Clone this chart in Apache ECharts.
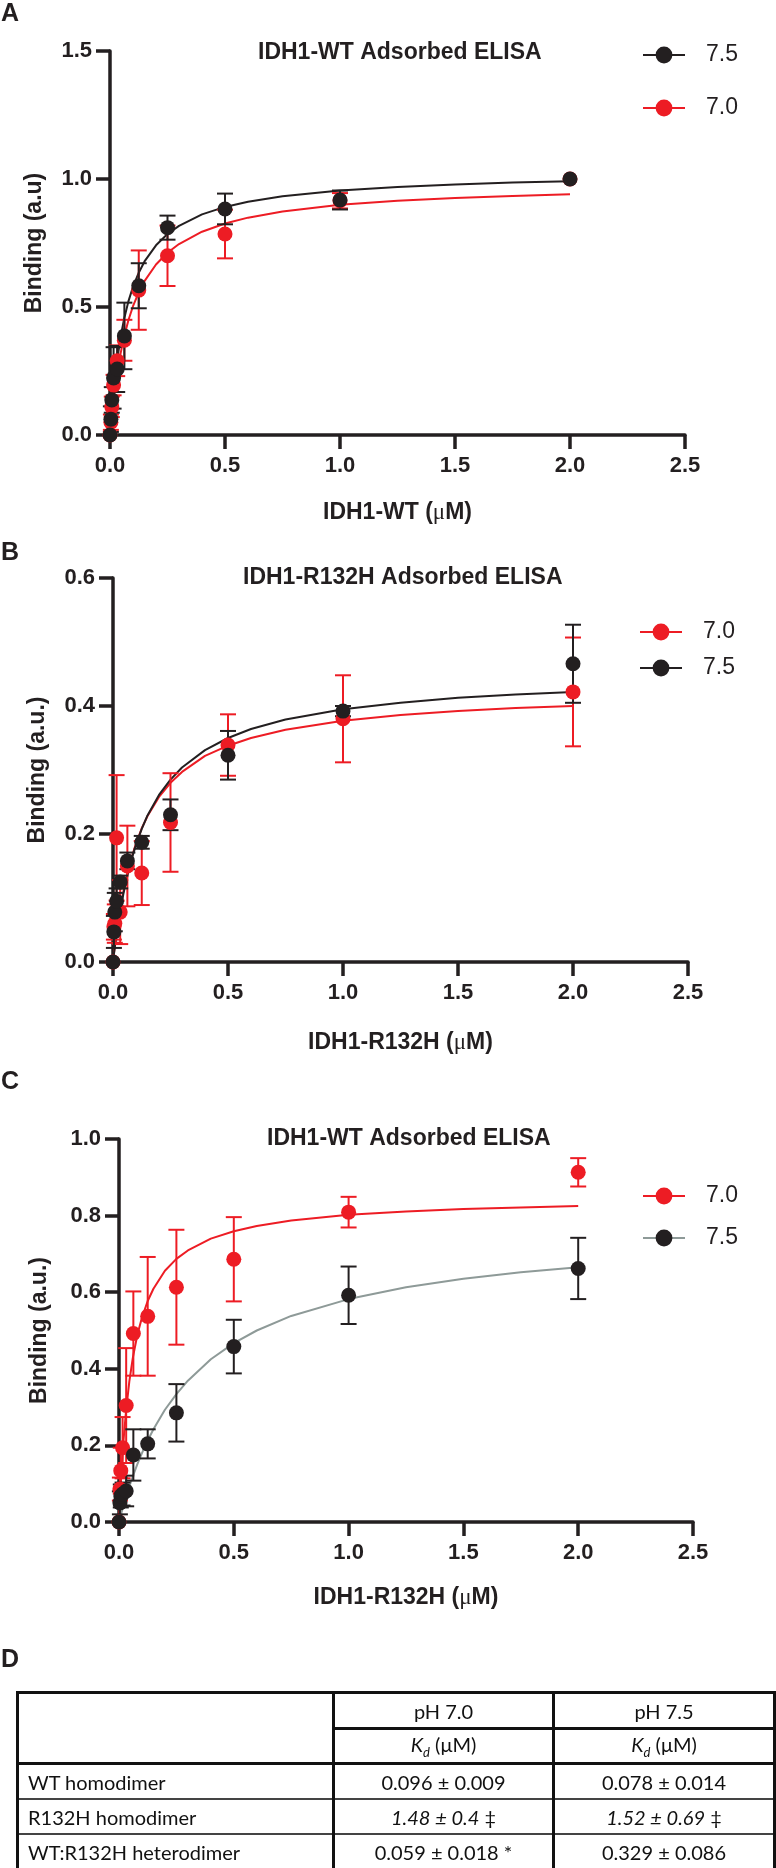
<!DOCTYPE html>
<html><head><meta charset="utf-8">
<script src="https://cdn.jsdelivr.net/npm/echarts/dist/echarts.min.js"></script>
<style>
html,body{margin:0;padding:0;background:#fff;}
#chart{position:absolute;left:0;top:0;width:776px;height:1868px;}
#tbl{position:absolute;left:16px;top:1691px;width:759px;border-collapse:collapse;font-family:Lato,'Open Sans',sans-serif;font-size:20px;color:#111;table-layout:fixed;border:3px solid #111;}
#tbl td{padding:0;text-align:center;vertical-align:middle;border-left:3px solid #111;border-right:3px solid #111;}
#tbl td.name{text-align:left;padding-left:9px;}
#tbl tr.h1 td{height:33px;border-bottom:3px solid #111;}
#tbl tr.h2 td{height:32px;border-bottom:3px solid #111;}
#tbl tr.b td{height:33px;border-bottom:2px solid #444;}
#tbl tr.b:last-child td{border-bottom:3px solid #111;}
</style></head>
<body>
<div id="chart"></div>
<table id="tbl"></table>
<script>
// ---------- data ----------
const conc = [0, 0.0039, 0.0078, 0.0156, 0.03125, 0.0625, 0.125, 0.25, 0.5, 1, 2];
const fitX = [0,0.005,0.01,0.02,0.03,0.045,0.06,0.08,0.1,0.125,0.15,0.2,0.25,0.3,0.4,0.5,0.6,0.75,1,1.25,1.5,1.75,2];
const xTicks = [0, 0.5, 1.0, 1.5, 2.0, 2.5];

// Panel A: IDH1-WT adsorbed
const aPh75 = [0, 0.062, 0.137, 0.223, 0.258, 0.387, 0.583, 0.81, 0.883, 0.918, 1.0];
const aPh75Err = [0, 0.05, 0.05, 0.12, 0.09, 0.13, 0.088, 0.047, 0.06, 0.037, 0.005];
const aPh70 = [0, 0.05, 0.11, 0.195, 0.29, 0.37, 0.566, 0.70, 0.785, 0.915, 1.0];
const aPh70Err = [0, 0.03, 0.04, 0.04, 0.06, 0.08, 0.155, 0.118, 0.095, 0.03, 0.005];
const aFit75 = [0,0.062,0.117,0.210,0.286,0.377,0.448,0.522,0.579,0.634,0.678,0.741,0.785,0.817,0.862,0.891,0.911,0.933,0.955,0.969,0.979,0.986,0.991];
const aFit70 = [0,0.049,0.093,0.170,0.235,0.314,0.379,0.448,0.503,0.557,0.601,0.666,0.712,0.746,0.794,0.826,0.849,0.873,0.899,0.915,0.926,0.934,0.940];

// Panel B: IDH1-R132H adsorbed
const bPh75 = [0, 0.047, 0.078, 0.095, 0.125, 0.158, 0.187, 0.23, 0.323, 0.392, 0.466];
const bPh75Err = [0, 0.025, 0.03, 0.02, 0.01, 0.013, 0.01, 0.024, 0.038, 0.008, 0.061];
const bPh70 = [0, 0.055, 0.06, 0.194, 0.078, 0.15, 0.139, 0.218, 0.339, 0.38, 0.422];
const bPh70Err = [0, 0.02, 0.03, 0.098, 0.05, 0.063, 0.05, 0.077, 0.048, 0.068, 0.085];
const bFit75 = [0,0.015,0.029,0.054,0.077,0.106,0.131,0.160,0.183,0.208,0.229,0.261,0.285,0.304,0.331,0.350,0.364,0.379,0.395,0.405,0.413,0.418,0.422];
const bFit70 = [0,0.016,0.030,0.057,0.080,0.110,0.135,0.162,0.185,0.209,0.228,0.258,0.280,0.297,0.322,0.338,0.350,0.363,0.377,0.386,0.392,0.397,0.400];

// Panel C: IDH1-WT adsorbed, IDH1-R132H added
const cPh70 = [0, 0.086, 0.134, 0.194, 0.304, 0.492, 0.537, 0.613, 0.686, 0.809, 0.913];
const cPh70Err = [0, 0.03, 0.06, 0.08, 0.15, 0.11, 0.155, 0.15, 0.11, 0.04, 0.037];
const cPh75 = [0, 0.05, 0.068, 0.073, 0.081, 0.175, 0.204, 0.285, 0.458, 0.592, 0.662];
const cPh75Err = [0, 0.03, 0.03, 0.03, 0.04, 0.067, 0.038, 0.075, 0.07, 0.075, 0.08];
const cFit70 = [0,0.066,0.123,0.215,0.286,0.367,0.428,0.489,0.534,0.577,0.609,0.656,0.687,0.709,0.740,0.759,0.773,0.787,0.802,0.811,0.817,0.821,0.825];
const cFit75 = [0,0.012,0.023,0.044,0.065,0.093,0.119,0.151,0.180,0.213,0.242,0.293,0.334,0.369,0.425,0.467,0.500,0.538,0.582,0.613,0.635,0.652,0.665];

// Table D
const tblCols = ['pH 7.0', 'pH 7.5'];
const tblRows = ['WT homodimer', 'R132H homodimer', 'WT:R132H heterodimer'];
const kd70 = ['0.096 ± 0.009', '1.48 ± 0.4', '0.059 ± 0.018'];
const kd75 = ['0.078 ± 0.014', '1.52 ± 0.69', '0.329 ± 0.086'];
const kd70Mark = ['', '‡', '*'];
const kd75Mark = ['', '‡', ''];
const tblItalic = [false, true, false];

// ---------- styling ----------
const RED = '#ed1c24', BLK = '#231f20', GRAY = '#8e9a98';
const FONT = "'Liberation Sans', Arial, Helvetica, sans-serif";

const panels = [
  {title:'IDH1-WT Adsorbed ELISA', titleLeft:258, titleTop:41, xName:'IDH1-WT (', yName:'Binding (a.u)',
   grid:{left:110, top:51, width:575, height:384}, yMax:1.5, yInt:0.5, xGap:66, yGap:64,
   legend:{left:642, top:42, gap:27},
   series:[
     {key:'7.0', y:aPh70, e:aPh70Err, fit:aFit70, line:RED, pt:RED},
     {key:'7.5', y:aPh75, e:aPh75Err, fit:aFit75, line:BLK, pt:BLK}],
   legendOrder:['7.5','7.0']},
  {title:'IDH1-R132H Adsorbed ELISA', titleLeft:243, titleTop:566, xName:'IDH1-R132H (', yName:'Binding (a.u.)',
   grid:{left:113, top:578, width:575, height:384}, yMax:0.6, yInt:0.2, xGap:69, yGap:64,
   legend:{left:639, top:619, gap:10},
   series:[
     {key:'7.0', y:bPh70, e:bPh70Err, fit:bFit70, line:RED, pt:RED},
     {key:'7.5', y:bPh75, e:bPh75Err, fit:bFit75, line:BLK, pt:BLK}],
   legendOrder:['7.0','7.5']},
  {title:'IDH1-WT Adsorbed ELISA', titleLeft:267, titleTop:1127, xName:'IDH1-R132H (', yName:'Binding (a.u.)',
   grid:{left:119, top:1139, width:574, height:383}, yMax:1.0, yInt:0.2, xGap:64, yGap:68,
   legend:{left:642, top:1183, gap:16},
   series:[
     {key:'7.0', y:cPh70, e:cPh70Err, fit:cFit70, line:RED, pt:RED},
     {key:'7.5', y:cPh75, e:cPh75Err, fit:cFit75, line:GRAY, pt:BLK}],
   legendOrder:['7.0','7.5']}
];
const panelLetters = [{t:'A', top:2}, {t:'B', top:541}, {t:'C', top:1070}, {t:'D', top:1648}];

function errRender(color){
  return function(params, api){
    const x = api.value(0), lo = api.value(1), hi = api.value(2);
    const p1 = api.coord([x, hi]), p2 = api.coord([x, lo]);
    const w = 8;
    const style = {stroke: color, lineWidth: 2, fill: null};
    return {type:'group', children:[
      {type:'line', shape:{x1:p1[0], y1:p1[1], x2:p2[0], y2:p2[1]}, style:style},
      {type:'line', shape:{x1:p1[0]-w, y1:p1[1], x2:p1[0]+w, y2:p1[1]}, style:style},
      {type:'line', shape:{x1:p2[0]-w, y1:p2[1], x2:p2[0]+w, y2:p2[1]}, style:style}
    ]};
  };
}

const option = {
  animation:false, backgroundColor:'#fff',
  grid:[], xAxis:[], yAxis:[], title:[], legend:[], series:[],
  graphic: panelLetters.map(p => ({type:'text', left:1, top:p.top, style:{text:p.t, font:'bold 25px '+FONT, fill:BLK}}))
};

const axisCommon = {
  axisLine:{show:true, onZero:false, lineStyle:{color:BLK, width:3.5}},
  axisTick:{show:true, length:14, lineStyle:{color:BLK, width:3.5}},
  splitLine:{show:false},
  axisLabel:{color:BLK, fontSize:22, fontWeight:'bold', fontFamily:FONT, formatter:v=>v.toFixed(1)}
};

panels.forEach((p, gi) => {
  option.grid.push(Object.assign({outerBoundsMode:'none', containLabel:false}, p.grid));
  option.xAxis.push(Object.assign({}, axisCommon, {
    type:'value', gridIndex:gi, min:xTicks[0], max:xTicks[xTicks.length-1], interval:0.5,
    axisLabel:Object.assign({}, axisCommon.axisLabel, {margin:20}),
    name:'{b|'+p.xName+'}{u|μ}{b|M)}', nameLocation:'middle', nameGap:p.xGap, nameMoveOverlap:false,
    nameTextStyle:{rich:{b:{fontSize:23, fontWeight:'bold', fontFamily:FONT, color:BLK},
                         u:{fontSize:23, fontWeight:'normal', fontFamily:"'Liberation Serif', serif", color:BLK}}}
  }));
  option.yAxis.push(Object.assign({}, axisCommon, {
    type:'value', gridIndex:gi, min:0, max:p.yMax, interval:p.yInt,
    axisLabel:Object.assign({}, axisCommon.axisLabel, {margin:18}),
    name:p.yName, nameLocation:'middle', nameRotate:90, nameGap:p.yGap, nameMoveOverlap:false,
    nameTextStyle:{fontSize:23, fontWeight:'bold', fontFamily:FONT, color:BLK}
  }));
  option.title.push({text:p.title, left:p.titleLeft, top:p.titleTop, padding:0,
    textStyle:{fontSize:23, fontWeight:'bold', fontFamily:FONT, color:BLK}});
  option.legend.push({
    orient:'vertical', left:p.legend.left, top:p.legend.top, itemGap:p.legend.gap, padding:0,
    itemWidth:42, itemHeight:21,
    data:p.legendOrder.map(k => 'P'+gi+'|'+k),
    formatter:name => name.split('|')[1],
    selectedMode:false,
    textStyle:{fontSize:23, fontFamily:FONT, color:BLK, lineHeight:26, padding:[0,0,0,16]}
  });
  p.series.forEach(s => {
    const nm = 'P'+gi+'|'+s.key;
    option.series.push({
      name:nm, type:'line', xAxisIndex:gi, yAxisIndex:gi,
      data:fitX.map((x,i)=>[x, s.fit[i]]), smooth:false,
      symbol:'circle', symbolSize:16, showSymbol:false,
      lineStyle:{color:s.line, width:2}, itemStyle:{color:s.pt}, z:2, clip:false
    });
    option.series.push({
      name:nm+'|err', type:'custom', xAxisIndex:gi, yAxisIndex:gi, coordinateSystem:'cartesian2d',
      renderItem:errRender(s.pt), encode:{x:0, y:[1,2]},
      data:conc.map((x,i)=>[x, s.y[i]-s.e[i], s.y[i]+s.e[i]]).filter((d,i)=>s.e[i]>0.006),
      z:3, clip:false
    });
    option.series.push({
      name:nm+'|pts', type:'scatter', xAxisIndex:gi, yAxisIndex:gi,
      data:conc.map((x,i)=>[x, s.y[i]]), symbol:'circle', symbolSize:15,
      itemStyle:{color:s.pt, opacity:1}, z:4, clip:false
    });
  });
});

const chart = echarts.init(document.getElementById('chart'), null, {renderer:'canvas'});
chart.setOption(option);

// ---------- table ----------
const tbl = document.getElementById('tbl');
let html = '<colgroup><col style="width:316px"><col style="width:220px"><col style="width:221px"></colgroup>';
html += '<tr class="h1"><td rowspan="2" style="border-bottom:3px solid #111"></td>' + tblCols.map(c=>'<td>'+c+'</td>').join('') + '</tr>';
html += '<tr class="h2">' + tblCols.map(()=>'<td><i>K<sub style="font-size:13px">d</sub></i> (μM)</td>').join('') + '</tr>';
tblRows.forEach((r,i)=>{
  const fmt = (v,m)=> (tblItalic[i] ? '<i>'+v+'</i>' : v) + (m ? ' '+m : '');
  html += '<tr class="b"><td class="name">'+r+'</td><td>'+fmt(kd70[i],kd70Mark[i])+'</td><td>'+fmt(kd75[i],kd75Mark[i])+'</td></tr>';
});
tbl.innerHTML = html;
</script>
</body></html>
